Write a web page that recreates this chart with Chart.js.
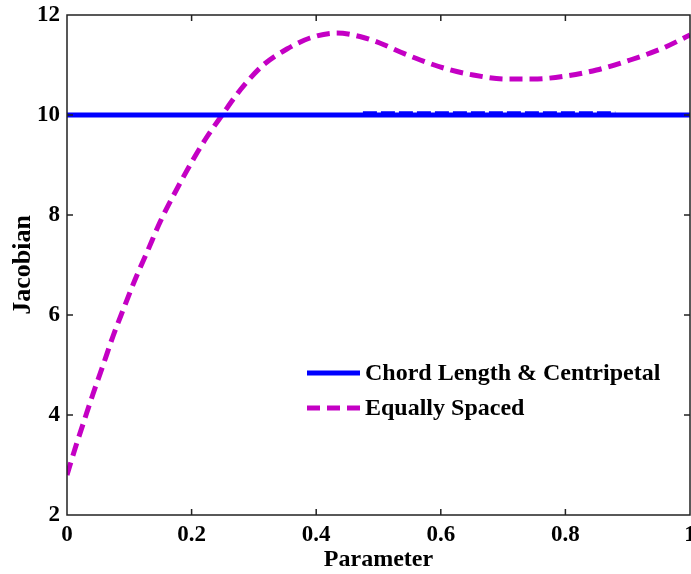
<!DOCTYPE html>
<html>
<head>
<meta charset="utf-8">
<script src="https://cdn.jsdelivr.net/npm/chart.js@4.4.1/dist/chart.umd.min.js"></script>
<style>
  html, body { margin: 0; padding: 0; background: #fff; overflow: hidden; }
  #wrap { position: absolute; left: 0; top: 0; width: 700px; height: 574px; }
</style>
</head>
<body>
<div id="wrap"><canvas id="myChart" width="700" height="574"></canvas></div>
<script>
// values
const paramX = [0, 0.013, 0.03, 0.042, 0.058, 0.074, 0.09, 0.109, 0.13, 0.149, 0.17,
  0.202, 0.225, 0.249, 0.278, 0.315, 0.353, 0.39, 0.433, 0.47, 0.502, 0.535, 0.567,
  0.61, 0.652, 0.706, 0.748, 0.796, 0.85, 0.904, 0.957, 1.0];
const equallySpaced = [2.8, 3.33, 3.98, 4.43, 5.0, 5.58, 6.1, 6.7, 7.3, 7.85, 8.37,
  9.1, 9.57, 10.0, 10.5, 11.0, 11.32, 11.54, 11.64, 11.57, 11.44, 11.26, 11.1,
  10.92, 10.8, 10.72, 10.72, 10.77, 10.9, 11.1, 11.34, 11.6];
const chordX = [0, 1];
const chordCentripetal = [10, 10];
const centripetalX = [0.475, 0.88];
const centripetalBump = [10.025, 10.025];
const xTicks = [0, 0.2, 0.4, 0.6, 0.8, 1];
const yTicks = [2, 4, 6, 8, 10, 12];

const serif = '"Liberation Serif", "Times New Roman", serif';
Chart.defaults.font.family = serif;
Chart.defaults.font.weight = 'bold';
Chart.defaults.font.size = 23;
Chart.defaults.color = '#000';

const toPts = (xs, ys) => xs.map((x, i) => ({ x: x, y: ys[i] }));

// box round the plot, with the inward tick marks on all four sides
const frame = {
  id: 'frame',
  afterDatasetsDraw(chart) {
    const { ctx, chartArea: a, scales } = chart;
    ctx.save();
    ctx.strokeStyle = '#222';
    ctx.lineWidth = 1.5;
    ctx.strokeRect(a.left, a.top, a.right - a.left, a.bottom - a.top);
    ctx.beginPath();
    xTicks.slice(1, -1).forEach(v => {
      const px = scales.x.getPixelForValue(v);
      ctx.moveTo(px, a.bottom); ctx.lineTo(px, a.bottom - 6);
      ctx.moveTo(px, a.top); ctx.lineTo(px, a.top + 6);
    });
    yTicks.slice(1, -1).forEach(v => {
      const py = scales.y.getPixelForValue(v);
      ctx.moveTo(a.left, py); ctx.lineTo(a.left + 6, py);
      ctx.moveTo(a.right, py); ctx.lineTo(a.right - 6, py);
    });
    ctx.stroke();
    ctx.restore();
  }
};

// legend drawn inside the plot, lower right
const innerLegend = {
  id: 'innerLegend',
  afterDraw(chart) {
    const { ctx, chartArea: a } = chart;
    const items = chart.data.datasets.filter(d => d.inLegend);
    ctx.save();
    ctx.font = 'bold 24px ' + serif;
    ctx.textBaseline = 'middle';
    items.forEach((d, i) => {
      const x0 = a.left + 240;
      const y = a.top + 358 + i * 35;
      ctx.strokeStyle = d.borderColor;
      ctx.lineWidth = d.borderWidth;
      ctx.setLineDash(d.borderDash || []);
      ctx.beginPath();
      ctx.moveTo(x0, y); ctx.lineTo(x0 + 53, y);
      ctx.stroke();
      ctx.setLineDash([]);
      ctx.fillStyle = '#000';
      ctx.fillText(d.label, x0 + 58, y + 1);
    });
    ctx.restore();
  }
};

const ctx = document.getElementById('myChart').getContext('2d');
const myChart = new Chart(ctx, {
  type: 'line',
  data: {
    datasets: [{
      label: 'Chord Length & Centripetal',
      data: toPts(chordX, chordCentripetal),
      borderColor: '#0000ff',
      borderWidth: 5,
      pointRadius: 0,
      inLegend: true
    }, {
      label: 'Centripetal',
      data: toPts(centripetalX, centripetalBump),
      borderColor: '#0000ff',
      borderWidth: 5,
      borderDash: [14, 4],
      pointRadius: 0
    }, {
      label: 'Equally Spaced',
      data: toPts(paramX, equallySpaced),
      borderColor: '#c400c4',
      borderWidth: 5,
      borderDash: [13, 7],
      cubicInterpolationMode: 'monotone',
      pointRadius: 0,
      inLegend: true
    }]
  },
  options: {
    responsive: false,
    animation: false,
    devicePixelRatio: 1,
    layout: { padding: { top: 15, right: 10, left: 0, bottom: 0 } },
    plugins: {
      legend: { display: false },
      tooltip: { enabled: false }
    },
    scales: {
      x: {
        type: 'linear',
        min: 0,
        max: 1,
        afterFit: s => { s.height = 59; s.paddingLeft = 0; s.paddingRight = 0; },
        afterBuildTicks: s => { s.ticks = xTicks.map(v => ({ value: v })); },
        grid: { display: false, drawTicks: false },
        border: { display: false },
        ticks: { padding: 6, maxRotation: 0, callback: v => String(v) },
        title: { display: true, text: 'Parameter', font: { size: 24 }, padding: { top: 0, bottom: 0 } }
      },
      y: {
        min: 2,
        max: 12,
        afterFit: s => { s.width = 67; s.paddingTop = 0; s.paddingBottom = 0; },
        afterBuildTicks: s => { s.ticks = yTicks.map(v => ({ value: v })); },
        grid: { display: false, drawTicks: false },
        border: { display: false },
        ticks: { padding: 7, callback: v => String(v) },
        title: { display: true, text: 'Jacobian', font: { size: 26 }, padding: { top: 8, bottom: 0 } }
      }
    }
  },
  plugins: [frame, innerLegend]
});
</script>
</body>
</html>
